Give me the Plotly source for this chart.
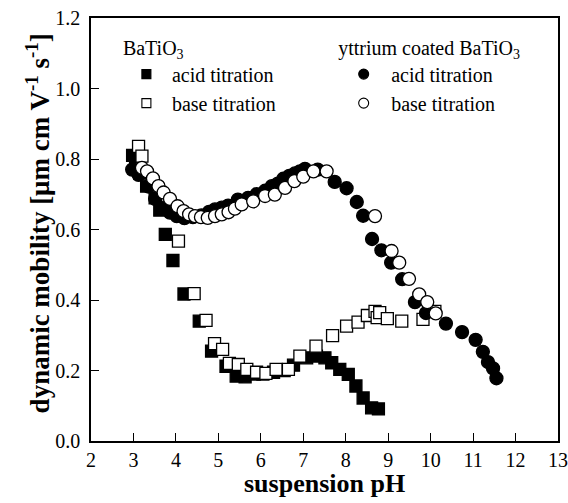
import plotly.graph_objects as go

# Yttrium coated BaTiO3, acid titration (filled circles)
y_acid_ph = [2.97, 3.12, 3.35, 3.51, 3.70, 3.86, 4.02, 4.20, 4.40, 4.60, 4.78, 4.92, 5.08, 5.23, 5.46,
             5.70, 5.90, 6.10, 6.26, 6.40, 6.53, 6.67, 6.80, 6.92, 7.04, 7.34, 7.74, 8.02, 8.26, 8.41,
             8.62, 8.84, 9.07, 9.33, 9.63, 9.89, 10.36, 10.74, 11.06, 11.23, 11.35, 11.47, 11.55]
y_acid_mob = [0.770, 0.755, 0.722, 0.687, 0.662, 0.648, 0.638, 0.632, 0.635, 0.640, 0.650, 0.657, 0.662, 0.668, 0.685,
              0.690, 0.700, 0.710, 0.723, 0.730, 0.744, 0.752, 0.759, 0.765, 0.772, 0.770, 0.735, 0.717, 0.678, 0.639,
              0.573, 0.541, 0.506, 0.459, 0.394, 0.363, 0.333, 0.309, 0.287, 0.253, 0.224, 0.206, 0.178]

# Yttrium coated BaTiO3, base titration (open circles)
y_base_ph = [3.20, 3.32, 3.46, 3.59, 3.71, 3.86, 4.04, 4.18, 4.31, 4.45, 4.59, 4.75, 4.92, 5.08, 5.24,
             5.39, 5.55, 5.82, 6.10, 6.33, 6.57, 6.79, 7.00, 7.24, 7.55, 8.69, 9.08, 9.26, 9.49, 9.73,
             9.92, 10.12]
y_base_mob = [0.775, 0.765, 0.745, 0.723, 0.705, 0.687, 0.666, 0.652, 0.643, 0.638, 0.635, 0.633, 0.638, 0.643, 0.649,
              0.659, 0.671, 0.680, 0.695, 0.699, 0.718, 0.737, 0.750, 0.765, 0.765, 0.638, 0.539, 0.506, 0.460, 0.416,
              0.394, 0.362]

# BaTiO3, acid titration (filled squares)
b_acid_ph = [2.98, 3.05, 3.15, 3.31, 3.51, 3.62, 3.75, 3.93, 4.19, 4.55, 4.84, 5.18, 5.42, 5.63, 5.85,
             6.05, 6.30, 6.55, 6.77, 7.08, 7.31, 7.51, 7.67, 7.86, 8.06, 8.24, 8.41, 8.61, 8.77]
b_acid_mob = [0.810, 0.790, 0.760, 0.723, 0.690, 0.655, 0.586, 0.512, 0.417, 0.340, 0.255, 0.212, 0.184, 0.182, 0.190,
              0.190, 0.195, 0.200, 0.215, 0.236, 0.241, 0.236, 0.222, 0.203, 0.189, 0.156, 0.122, 0.094, 0.091]

# BaTiO3, base titration (open squares)
b_base_ph = [3.12, 3.20, 4.06, 4.43, 4.71, 4.91, 5.10, 5.26, 5.47, 5.67, 5.90, 6.12, 6.36, 6.65, 6.92,
             7.30, 7.69, 8.02, 8.29, 8.51, 8.69, 8.74, 8.80, 8.98, 9.32, 9.82, 10.10]
b_base_mob = [0.836, 0.808, 0.567, 0.418, 0.342, 0.276, 0.260, 0.220, 0.217, 0.203, 0.195, 0.192, 0.203, 0.203, 0.241,
              0.269, 0.299, 0.326, 0.337, 0.356, 0.368, 0.350, 0.364, 0.347, 0.340, 0.345, 0.368]

x_ticks = [2, 3, 4, 5, 6, 7, 8, 9, 10, 11, 12, 13]
y_ticks = [0.0, 0.2, 0.4, 0.6, 0.8, 1.0, 1.2]

x_title = "<b>suspension pH</b>"
y_title = "<b>dynamic mobility [μm cm V<sup>-1</sup> s<sup>-1</sup>]</b>"

FONT = "Liberation Serif, Times New Roman, serif"
LINE = dict(color="black", width=1.3)

fig = go.Figure()

def data_trace(x, y, symbol, fill):
    return go.Scatter(x=x, y=y, mode="markers", showlegend=False, hoverinfo="skip",
                      marker=dict(symbol=symbol, size=13 if "circle" in symbol else 12,
                                  color=fill, line=LINE))

fig.add_trace(data_trace(b_acid_ph, b_acid_mob, "square", "black"))
fig.add_trace(data_trace(b_base_ph, b_base_mob, "square", "white"))
fig.add_trace(data_trace(y_acid_ph, y_acid_mob, "circle", "black"))
fig.add_trace(data_trace(y_base_ph, y_base_mob, "circle", "white"))

def legend_trace(name, symbol, fill, legend, size):
    return go.Scatter(x=[None], y=[None], mode="markers", name=name, legend=legend,
                      marker=dict(symbol=symbol, size=size, color=fill, line=dict(color="black", width=1.1)))

fig.add_trace(legend_trace("acid titration", "square", "black", "legend", 9))
fig.add_trace(legend_trace("base titration", "square", "white", "legend", 9))
fig.add_trace(legend_trace("acid titration", "circle", "black", "legend2", 10))
fig.add_trace(legend_trace("base titration", "circle", "white", "legend2", 10))

leg_common = dict(font=dict(family=FONT, size=20, color="black"), bgcolor="rgba(0,0,0,0)",
                  xanchor="left", yanchor="top", tracegroupgap=0, itemclick=False)

fig.update_layout(
    width=568, height=503,
    margin=dict(l=91, r=10, t=18, b=62),
    paper_bgcolor="white", plot_bgcolor="white",
    font=dict(family=FONT, size=20, color="black"),
    legend=dict(x=0.064, y=0.975, itemwidth=41,
                title=dict(text="BaTiO<sub>3</sub>", font=dict(family=FONT, size=20)), **leg_common),
    legend2=dict(x=0.525, y=0.975, itemwidth=45,
                 title=dict(text="yttrium coated BaTiO<sub>3</sub>", font=dict(family=FONT, size=20)), **leg_common),
    xaxis=dict(range=[2, 13], tickvals=x_ticks, ticktext=[str(v) for v in x_ticks],
               ticks="inside", ticklen=8, tickwidth=1.3, tickcolor="black",
               showline=True, linecolor="black", linewidth=1.5, mirror=True,
               showgrid=False, zeroline=False, ticklabelstandoff=0, ticklabeloverflow="allow",
               tickfont=dict(family=FONT, size=20), automargin=False),
    yaxis=dict(range=[0, 1.2], tickvals=y_ticks, ticktext=[f"{v:.1f}" for v in y_ticks],
               ticks="inside", ticklen=8, tickwidth=1.3, tickcolor="black",
               showline=True, linecolor="black", linewidth=1.5, mirror=True,
               showgrid=False, zeroline=False, ticklabelstandoff=5, ticklabeloverflow="allow",
               tickfont=dict(family=FONT, size=20), automargin=False),
    annotations=[
        dict(text=x_title, xref="paper", yref="paper", x=0.5, y=-0.101, xanchor="center", yanchor="middle",
             showarrow=False, font=dict(family=FONT, size=26, color="black")),
        dict(text=y_title, xref="paper", yref="paper", x=-0.113, y=0.515, xanchor="center", yanchor="middle",
             textangle=-90, showarrow=False, font=dict(family=FONT, size=27, color="black")),
    ],
)

fig.write_html("out.html", config={"displayModeBar": False},
               post_script="document.body.style.margin='0';")
